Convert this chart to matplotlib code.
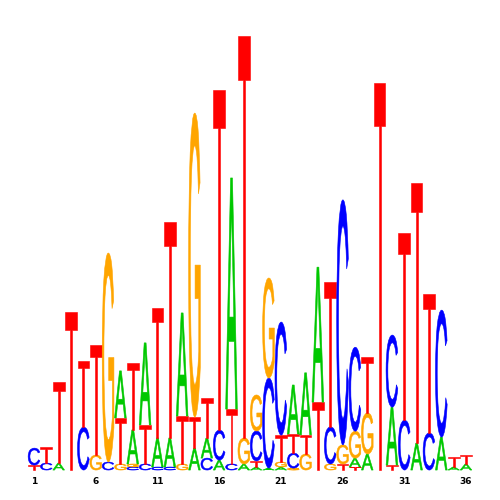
import matplotlib
matplotlib.use("Agg")
import matplotlib.pyplot as plt
from matplotlib.textpath import TextPath
from matplotlib.patches import PathPatch
from matplotlib.font_manager import FontProperties
from matplotlib.transforms import Affine2D

# letter heights (bits) per position 1..36
heights_A = [0, 0, 0.032, 0, 0, 0, 0, 0.217, 0.157, 0.378, 0.134, 0.134, 0.475, 0.101, 0.092, 0.046, 1.065, 0.028,
             0.014, 0.009, 0.014, 0.226, 0.286, 0.622, 0, 0, 0.041, 0.074, 0, 0.267, 0, 0.124, 0, 0.152, 0.014, 0.028]
heights_C = [0.078, 0.032, 0, 0, 0.198, 0, 0.037, 0, 0.014, 0.028, 0.014, 0.014, 0, 0, 0.055, 0.138, 0.028, 0,
             0.138, 0.415, 0.521, 0.069, 0, 0, 0.171, 1.129, 0.387, 0, 0, 0.332, 0.230, 0, 0.171, 0.585, 0, 0]
heights_G = [0, 0, 0, 0, 0, 0.069, 0.963, 0.028, 0.014, 0, 0, 0, 0.028, 1.401, 0, 0, 0, 0.120,
             0.166, 0.461, 0.023, 0.009, 0.074, 0, 0.028, 0.088, 0.124, 0.189, 0, 0, 0, 0, 0, 0, 0, 0]
heights_T = [0.023, 0.074, 0.373, 0.728, 0.304, 0.507, 0, 0.212, 0.309, 0.180, 0.599, 0.995, 0.221, 0.143, 0.184,
             1.567, 0.253, 1.853, 0.028, 0, 0.124, 0.088, 0.088, 0.313, 0.668, 0.028, 0.014, 0.258, 1.783, 0.023,
             0.862, 1.198, 0.641, 0, 0.046, 0.041]
tick_positions = [1, 6, 11, 16, 21, 26, 31, 36]

colors = {"A": "#00c800", "C": "#0000ff", "G": "#ffa500", "T": "#ff0000"}
fp = FontProperties(family="Liberation Sans", weight="normal")
glyphs = {ch: TextPath((0, 0), ch, size=1, prop=fp) for ch in "ACGT"}


def draw_letter(ax, ch, x, y, w, h):
    tp = glyphs[ch]
    bb = tp.get_extents()
    t = Affine2D().translate(-bb.x0, -bb.y0).scale(w / bb.width, h / bb.height).translate(x - w / 2, y)
    ax.add_patch(PathPatch(t.transform_path(tp), fc=colors[ch], ec=colors[ch], lw=0.4))


fig = plt.figure(figsize=(5, 5), dpi=100)
ax = fig.add_axes([0, 0, 1, 1])
ax.set_xlim(-1.755, 38.755)
ax.set_ylim(-0.138, 2.166)
ax.axis("off")

n = len(heights_A)
for i in range(n):
    stack = [("A", heights_A[i]), ("C", heights_C[i]), ("G", heights_G[i]), ("T", heights_T[i])]
    stack = sorted([s for s in stack if s[1] > 0], key=lambda s: s[1])
    y = 0
    for ch, h in stack:
        draw_letter(ax, ch, i + 1, y, 0.95, h)
        y += h

for p in tick_positions:
    ax.text(p, -0.055, str(p), ha="center", va="center", fontsize=6.5, fontweight="bold")

fig.savefig("out.png", dpi=100)
